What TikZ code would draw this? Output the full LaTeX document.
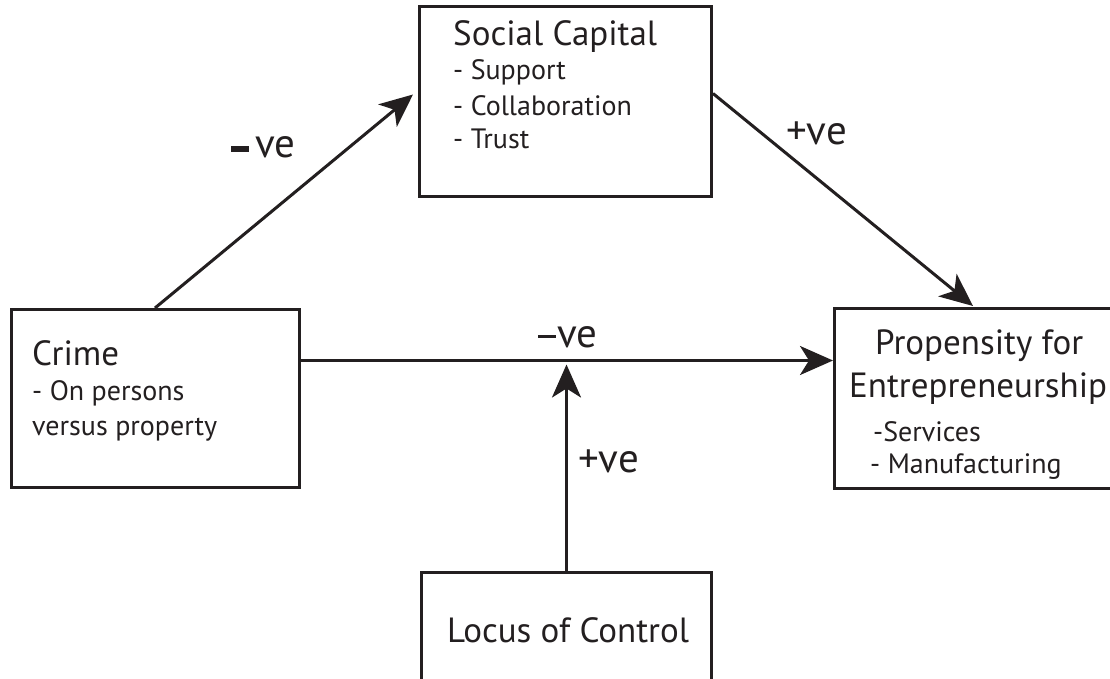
\documentclass[tikz,border=0pt]{standalone}
\usepackage{fontspec}
\setmainfont{PT Sans}
\usetikzlibrary{arrows.meta,calc}
\definecolor{ink}{HTML}{231F20}
\tikzset{
  box/.style={draw=ink, line width=3pt, rectangle, inner sep=0pt, anchor=north west},
  arr/.style={draw=ink, line width=3pt, -{Stealth[length=33pt,width=29pt,inset=9pt]}},
  ttl/.style={text=ink, anchor=base west, inner sep=0pt, font=\fontsize{35}{40}\selectfont},
  sub/.style={text=ink, anchor=base west, inner sep=0pt, font=\fontsize{28}{32}\selectfont},
  lbl/.style={text=ink, anchor=base west, inner sep=0pt, font=\fontsize{41}{44}\selectfont},
}
\begin{document}
\begin{tikzpicture}[x=1pt,y=-1pt]
\useasboundingbox (0,0) rectangle (1110,679);
\clip (0,0) rectangle (1110,679);
\fill[white] (0,0) rectangle (1110,679);

% boxes
\node[box, minimum width=292pt, minimum height=190pt] (sc) at (418,5) {};
\node[box, minimum width=288pt, minimum height=178pt] (crime) at (10,308) {};
\node[box, minimum width=300pt, minimum height=180pt] (prop) at (833,307) {};
\node[box, minimum width=290pt, minimum height=140pt] (locus) at (420,571) {};

% texts
\node[ttl] (sct) at (453,46) {Social Capital};
\node[sub] (sc1) at (453,80) {- Support};
\node[sub] (sc2) at (453,116) {- Collaboration};
\node[sub] (sc3) at (453,149) {- Trust};

\node[ttl] (crt) at (32,365) {Crime};
\node[sub] (cr1) at (32,400) {- On persons};
\node[sub] (cr2) at (32,435) {versus property};

\node[ttl] (prt) at (875,354) {Propensity for};
\node[ttl] (prt2) at (849,397) {Entrepreneurship};
\node[sub] (pr1) at (873,441) {-Services};
\node[sub] (pr2) at (870,473) {- Manufacturing};

\node[ttl] (lct) at (447,642) {Locus of Control};

% connectors
\draw[arr] ([xshift=145pt]crime.north west) -- ([xshift=-5pt,yshift=7pt]sc.west);
\draw[arr] ([yshift=8pt]sc.east) -- ([xshift=140pt,yshift=1pt]prop.north west);
\draw[arr] ([yshift=38pt]crime.east) -- ([yshift=38pt]prop.west);
\coordinate (j) at ([yshift=38pt]crime.east -| locus.north);
\draw[arr] (locus.north) -- ([yshift=-4pt]j);

% labels
\node[lbl] (l1) at (231,158) {\rule[6pt]{18pt}{6pt}\hspace{6pt}ve};
\node[lbl] (l2) at (786,145) {+ve};
\node[lbl] (l3) at (538,347) {\rule[9pt]{18pt}{3.5pt}\hspace{1pt}ve};
\node[lbl] (l4) at (578,472) {+ve};
\end{tikzpicture}
\end{document}
